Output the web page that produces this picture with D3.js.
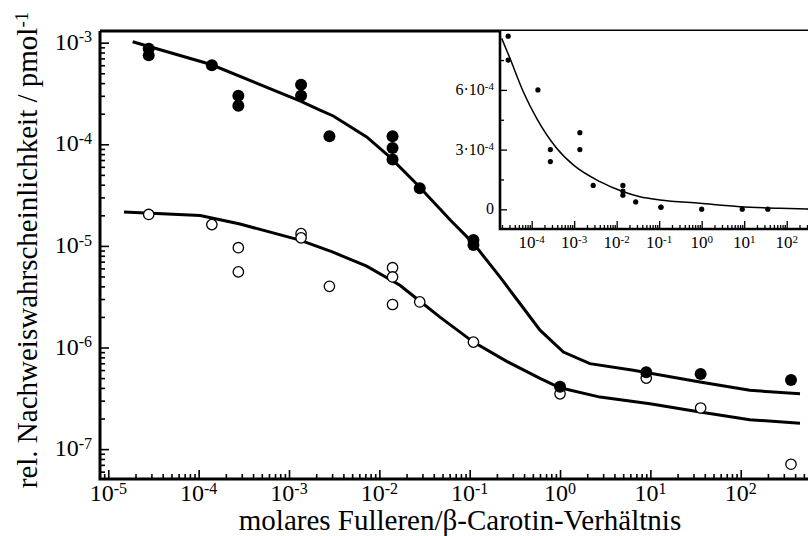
<!DOCTYPE html>
<html>
<head>
<meta charset="utf-8">
<script src="https://cdn.jsdelivr.net/npm/d3@7"></script>
<style>
  body { margin: 0; background: #fff; }
  svg { display: block; font-family: "Liberation Serif", "Times New Roman", serif; }
</style>
</head>
<body>
<svg id="chart" width="808" height="536"></svg>
<script>
// measured points, filled circles (upper series)
const filledX = [2.8e-5, 2.8e-5, 1.4e-4, 2.75e-4, 2.75e-4, 1.36e-3, 1.36e-3, 2.8e-3, 1.4e-2, 1.4e-2, 1.4e-2, 2.8e-2, 0.11, 0.11, 1, 9, 36, 360];
const filledY = [8.7e-4, 7.5e-4, 6.0e-4, 3.0e-4, 2.4e-4, 3.85e-4, 3.0e-4, 1.2e-4, 1.2e-4, 9.2e-5, 7.1e-5, 3.7e-5, 1.14e-5, 1.02e-5, 4.1e-7, 5.7e-7, 5.5e-7, 4.8e-7];

// measured points, open circles (lower series)
const openX = [2.8e-5, 1.4e-4, 2.75e-4, 2.75e-4, 1.36e-3, 1.36e-3, 2.8e-3, 1.4e-2, 1.4e-2, 1.4e-2, 2.8e-2, 0.11, 1, 9, 36, 360];
const openY = [2.04e-5, 1.62e-5, 9.6e-6, 5.55e-6, 1.32e-5, 1.2e-5, 4.0e-6, 6.1e-6, 4.95e-6, 2.65e-6, 2.81e-6, 1.13e-6, 3.5e-7, 5.0e-7, 2.54e-7, 7.1e-8];

// fitted curves in the main (log-log) panel
const fitUpperX = [1.86e-5, 1.37e-4, 1.32e-3, 2.2e-3, 3.09e-3, 7.24e-3, 1.31e-2, 2.59e-2, 6.13e-2, 0.11, 0.216, 0.36, 0.6, 1.09, 2.14, 6.47, 35.4, 126, 453];
const fitUpperY = [1.02e-3, 6.1e-4, 2.67e-4, 2.17e-4, 1.9e-4, 1.18e-4, 7.48e-5, 4.06e-5, 1.79e-5, 1.06e-5, 4.95e-6, 2.71e-6, 1.48e-6, 9.03e-7, 6.94e-7, 5.96e-7, 4.57e-7, 3.79e-7, 3.51e-7];
const fitLowerX = [1.49e-5, 1.04e-4, 2.87e-4, 1.32e-3, 3.07e-3, 7.24e-3, 1.69e-2, 2.82e-2, 4.69e-2, 0.11, 0.257, 0.6, 1.0, 2.77, 9.9, 35.4, 126, 453];
const fitLowerY = [2.16e-5, 1.99e-5, 1.64e-5, 1.14e-5, 8.67e-6, 6.31e-6, 4.1e-6, 2.85e-6, 1.99e-6, 1.13e-6, 7.31e-7, 4.97e-7, 4.01e-7, 3.25e-7, 2.8e-7, 2.32e-7, 1.95e-7, 1.8e-7];

// fitted curve in the inset (linear y)
const insetFitX = [1.97e-5, 3.08e-5, 6.34e-5, 1.31e-4, 3.87e-4, 9.53e-4, 4.05e-3, 1.43e-2, 3.53e-2, 0.104, 0.912, 7.96, 69.5, 317];
const insetFitY = [8.59e-4, 7.59e-4, 5.91e-4, 4.57e-4, 3.07e-4, 2.23e-4, 1.39e-4, 8.8e-5, 6.3e-5, 4.7e-5, 3.0e-5, 1.3e-5, 5e-6, 1.5e-6];

// tick labels
const xExponents = [-5, -4, -3, -2, -1, 0, 1, 2];
const yExponents = [-3, -4, -5, -6, -7];
const insetXExponents = [-4, -3, -2, -1, 0, 1, 2];
const insetYTicks = [0, 3e-4, 6e-4];
const insetYLabels = [["0", null], ["3·10", "-4"], ["6·10", "-4"]];
const insetYMinor = [1.5e-4, 4.5e-4, 7.5e-4];

const svg = d3.select("#chart");

const x = d3.scaleLog().domain([8.09e-6, 615]).range([100, 812]);
const y = d3.scaleLog().domain([5.08e-8, 1.303e-3]).range([479, 31]);

function minorLog(scale) {
  const [a, b] = scale.domain();
  const out = [];
  for (let e = Math.floor(Math.log10(a)); e <= Math.ceil(Math.log10(b)); e++) {
    for (let k = 2; k <= 9; k++) {
      const v = k * Math.pow(10, e);
      if (v > a && v < b) out.push(v);
    }
  }
  return out;
}

function powText(sel, base, exp, supSize) {
  sel.append("tspan").text(base);
  if (exp !== null) sel.append("tspan").attr("dy", "-0.45em").attr("font-size", supSize).text(exp);
}

// ---- main panel ----
const main = svg.append("g");

const xAxisG = main.append("g").attr("transform", "translate(0,479)");
xAxisG.call(d3.axisBottom(x).tickValues(minorLog(x)).tickSize(-5).tickFormat(""));
xAxisG.call(g => g.select(".domain").remove());
const xMajG = main.append("g").attr("transform", "translate(0,479)");
xMajG.call(d3.axisBottom(x).tickValues(xExponents.map(e => Math.pow(10, e))).tickSize(-9).tickFormat(""));
xMajG.call(g => g.select(".domain").remove());

const yAxisG = main.append("g").attr("transform", "translate(100,0)");
yAxisG.call(d3.axisLeft(y).tickValues(minorLog(y)).tickSize(-5).tickFormat(""));
yAxisG.call(g => g.select(".domain").remove());
const yMajG = main.append("g").attr("transform", "translate(100,0)");
yMajG.call(d3.axisLeft(y).tickValues(yExponents.map(e => Math.pow(10, e))).tickSize(-9).tickFormat(""));
yMajG.call(g => g.select(".domain").remove());

main.selectAll(".tick line").attr("stroke", "#000").attr("stroke-width", 1.6);

main.append("path")
  .attr("d", "M100,31V479H812M100,31H812")
  .attr("fill", "none").attr("stroke", "#000").attr("stroke-width", 3);

// tick labels
main.selectAll(".xlab").data(xExponents).enter().append("text")
  .attr("class", "xlab")
  .attr("x", d => x(Math.pow(10, d)))
  .attr("y", 501)
  .attr("text-anchor", "middle")
  .attr("font-size", 24)
  .each(function(d) { powText(d3.select(this), "10", String(d), 16); });

main.selectAll(".ylab").data(yExponents).enter().append("text")
  .attr("class", "ylab")
  .attr("x", 92)
  .attr("y", d => y(Math.pow(10, d)) + 7)
  .attr("text-anchor", "end")
  .attr("font-size", 24)
  .each(function(d) { powText(d3.select(this), "10", String(d), 16); });

// axis titles
main.append("text")
  .attr("x", 460).attr("y", 530)
  .attr("text-anchor", "middle")
  .attr("font-size", 29)
  .text("molares Fulleren/β-Carotin-Verhältnis");

main.append("text")
  .attr("transform", "translate(37,250) rotate(-90)")
  .attr("text-anchor", "middle")
  .attr("font-size", 29)
  .each(function() { powText(d3.select(this), "rel. Nachweiswahrscheinlichkeit / pmol", "-1", 19); });

// fitted curves
const line = d3.line().x(d => x(d[0])).y(d => y(d[1]));
main.append("path")
  .datum(d3.zip(fitUpperX, fitUpperY))
  .attr("d", line)
  .attr("fill", "none").attr("stroke", "#000").attr("stroke-width", 3);
main.append("path")
  .datum(d3.zip(fitLowerX, fitLowerY))
  .attr("d", line)
  .attr("fill", "none").attr("stroke", "#000").attr("stroke-width", 3);

// points
main.selectAll(".open").data(d3.zip(openX, openY)).enter().append("circle")
  .attr("class", "open")
  .attr("cx", d => x(d[0])).attr("cy", d => y(d[1])).attr("r", 5.2)
  .attr("fill", "#fff").attr("stroke", "#000").attr("stroke-width", 1.3);
main.selectAll(".filled").data(d3.zip(filledX, filledY)).enter().append("circle")
  .attr("class", "filled")
  .attr("cx", d => x(d[0])).attr("cy", d => y(d[1])).attr("r", 6)
  .attr("fill", "#000");

// ---- inset ----
const xi = d3.scaleLog().domain([1.797e-5, 394]).range([500, 812]);
const yi = d3.scaleLinear().domain([-9.9e-5, 8.96e-4]).range([229, 31]);

const inset = svg.append("g");
inset.append("rect").attr("x", 500).attr("y", 31).attr("width", 312).attr("height", 198).attr("fill", "#fff");

const xiMin = inset.append("g").attr("transform", "translate(0,229)");
xiMin.call(d3.axisBottom(xi).tickValues(minorLog(xi)).tickSize(-4).tickFormat(""));
xiMin.call(g => g.select(".domain").remove());
const xiMaj = inset.append("g").attr("transform", "translate(0,229)");
xiMaj.call(d3.axisBottom(xi).tickValues(insetXExponents.map(e => Math.pow(10, e))).tickSize(-8).tickFormat(""));
xiMaj.call(g => g.select(".domain").remove());

const yiMin = inset.append("g").attr("transform", "translate(500,0)");
yiMin.call(d3.axisLeft(yi).tickValues(insetYMinor).tickSize(-4).tickFormat(""));
yiMin.call(g => g.select(".domain").remove());
const yiMaj = inset.append("g").attr("transform", "translate(500,0)");
yiMaj.call(d3.axisLeft(yi).tickValues(insetYTicks).tickSize(-7).tickFormat(""));
yiMaj.call(g => g.select(".domain").remove());

inset.selectAll(".tick line").attr("stroke", "#000").attr("stroke-width", 1.3);

inset.append("path")
  .attr("d", "M500,31V229H812")
  .attr("fill", "none").attr("stroke", "#000").attr("stroke-width", 2.6);

inset.selectAll(".xilab").data(insetXExponents).enter().append("text")
  .attr("class", "xilab")
  .attr("x", d => xi(Math.pow(10, d)))
  .attr("y", 248)
  .attr("text-anchor", "middle")
  .attr("font-size", 17)
  .each(function(d) { powText(d3.select(this), "10", String(d), 11); });

inset.selectAll(".yilab").data(d3.zip(insetYTicks, insetYLabels)).enter().append("text")
  .attr("class", "yilab")
  .attr("x", 494)
  .attr("y", d => yi(d[0]) + 5)
  .attr("text-anchor", "end")
  .attr("font-size", 16)
  .each(function(d) { powText(d3.select(this), d[1][0], d[1][1], 11); });

const clip = inset.append("clipPath").attr("id", "insetClip");
clip.append("rect").attr("x", 500).attr("y", 31).attr("width", 312).attr("height", 198);

const lineI = d3.line().curve(d3.curveMonotoneX).x(d => xi(d[0])).y(d => yi(d[1]));
const insetPlot = inset.append("g").attr("clip-path", "url(#insetClip)");
insetPlot.append("path")
  .datum(d3.zip(insetFitX, insetFitY))
  .attr("d", lineI)
  .attr("fill", "none").attr("stroke", "#000").attr("stroke-width", 1.5);
insetPlot.selectAll(".ipt").data(d3.zip(filledX, filledY)).enter().append("circle")
  .attr("class", "ipt")
  .attr("cx", d => xi(d[0])).attr("cy", d => yi(d[1])).attr("r", 2.6)
  .attr("fill", "#000");
</script>
</body>
</html>
